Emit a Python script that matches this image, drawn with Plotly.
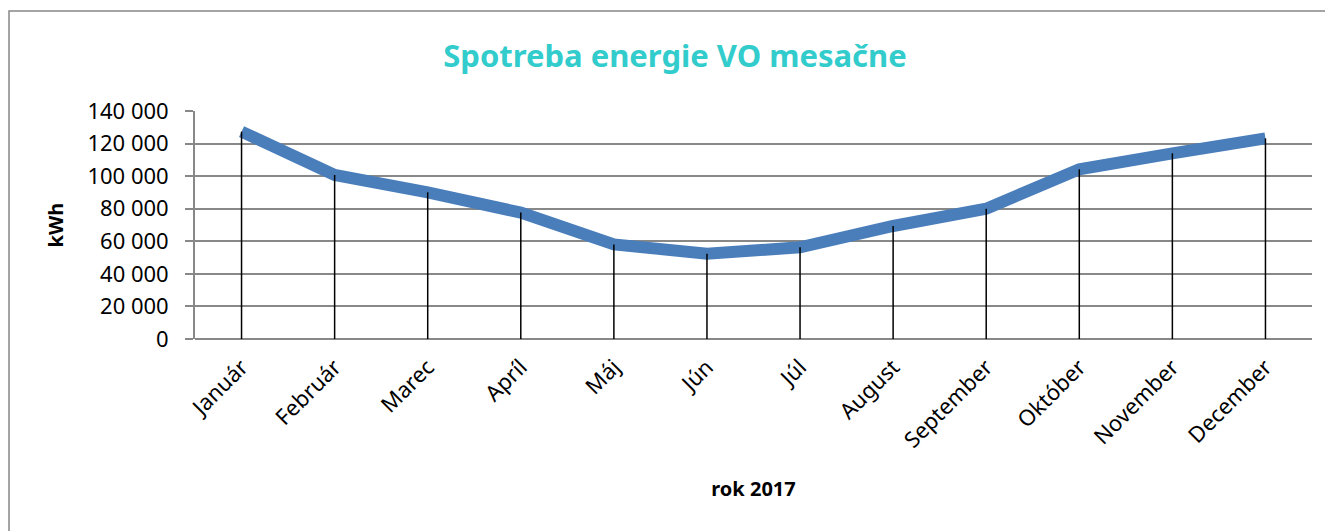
import plotly.graph_objects as go

months = ["Január", "Február", "Marec", "Apríl", "Máj", "Jún", "Júl",
          "August", "September", "Október", "November", "December"]
kwh = [127300, 100700, 90100, 77600, 58100, 52400, 56300, 69400, 80000, 104200, 114000, 123200]
y_ticks = [0, 20000, 40000, 60000, 80000, 100000, 120000, 140000]
y_tick_labels = [f"{v:,}".replace(",", " ") for v in y_ticks]

FONT = "Noto Sans"
OFF = 8  # page body margin

fig = go.Figure()
fig.add_trace(go.Scatter(
    x=months, y=kwh, mode="lines",
    line=dict(color="#4A7EBB", width=12),
    hoverinfo="skip", showlegend=False,
))
# drop lines from each point to the axis
dx, dy = [], []
for m, v in zip(months, kwh):
    dx += [m, m, None]
    dy += [0, v, None]
fig.add_trace(go.Scatter(
    x=dx, y=dy, mode="lines",
    line=dict(color="#000000", width=1.5),
    hoverinfo="skip", showlegend=False,
))

W, H = 1333 - OFF, 531 - OFF
L, T = 195 - OFF, 111 - OFF
R = W - (1312 - OFF)
B = H - (339 - OFF)
pw, ph = W - L - R, H - T - B

bx0 = -(L - 1) / pw
bx1 = (W + 20 - L) / pw
by0 = -(B + 20) / ph
by1 = (H - B - 3) / ph
border_path = f"M {bx0},{by0} L {bx0},{by1} L {bx1},{by1}"

fig.update_layout(
    width=W, height=H,
    margin=dict(l=L, r=R, t=T, b=B),
    paper_bgcolor="white", plot_bgcolor="white",
    title=dict(text="<b>Spotreba energie VO mesačne</b>",
               font=dict(family=FONT, size=31, color="#33CCCC"),
               x=(675 - OFF) / W, xanchor="center", y=1 - (56 - OFF) / H, yanchor="middle"),
    font=dict(family=FONT, color="#000000"),
    xaxis=dict(
        type="category", range=[-0.5, 11.5],
        showgrid=False, showline=False, zeroline=False,
        ticks="", tickangle=-45,
        tickfont=dict(family=FONT, size=22, color="#000000"),
        ticklabelstandoff=10,
        title=dict(text="<b>rok 2017</b>", font=dict(family=FONT, size=20), standoff=29),
    ),
    yaxis=dict(
        range=[0, 140000], tickvals=y_ticks, ticktext=y_tick_labels,
        showgrid=True, gridcolor="#888888", gridwidth=1.8,
        showline=True, linecolor="#888888", linewidth=1.8,
        zeroline=True, zerolinecolor="#888888", zerolinewidth=1.8,
        ticks="outside", ticklen=8, tickcolor="#888888", tickwidth=1.8,
        tickfont=dict(family=FONT, size=22, color="#000000"),
        ticklabelstandoff=12,
        title=dict(text="<b>kWh</b>", font=dict(family=FONT, size=20), standoff=18),
    ),
    shapes=[dict(
        type="path", xref="paper", yref="paper", path=border_path,
        line=dict(color="#878787", width=1.5), layer="below",
    )],
)

fig.write_html("out.html")
